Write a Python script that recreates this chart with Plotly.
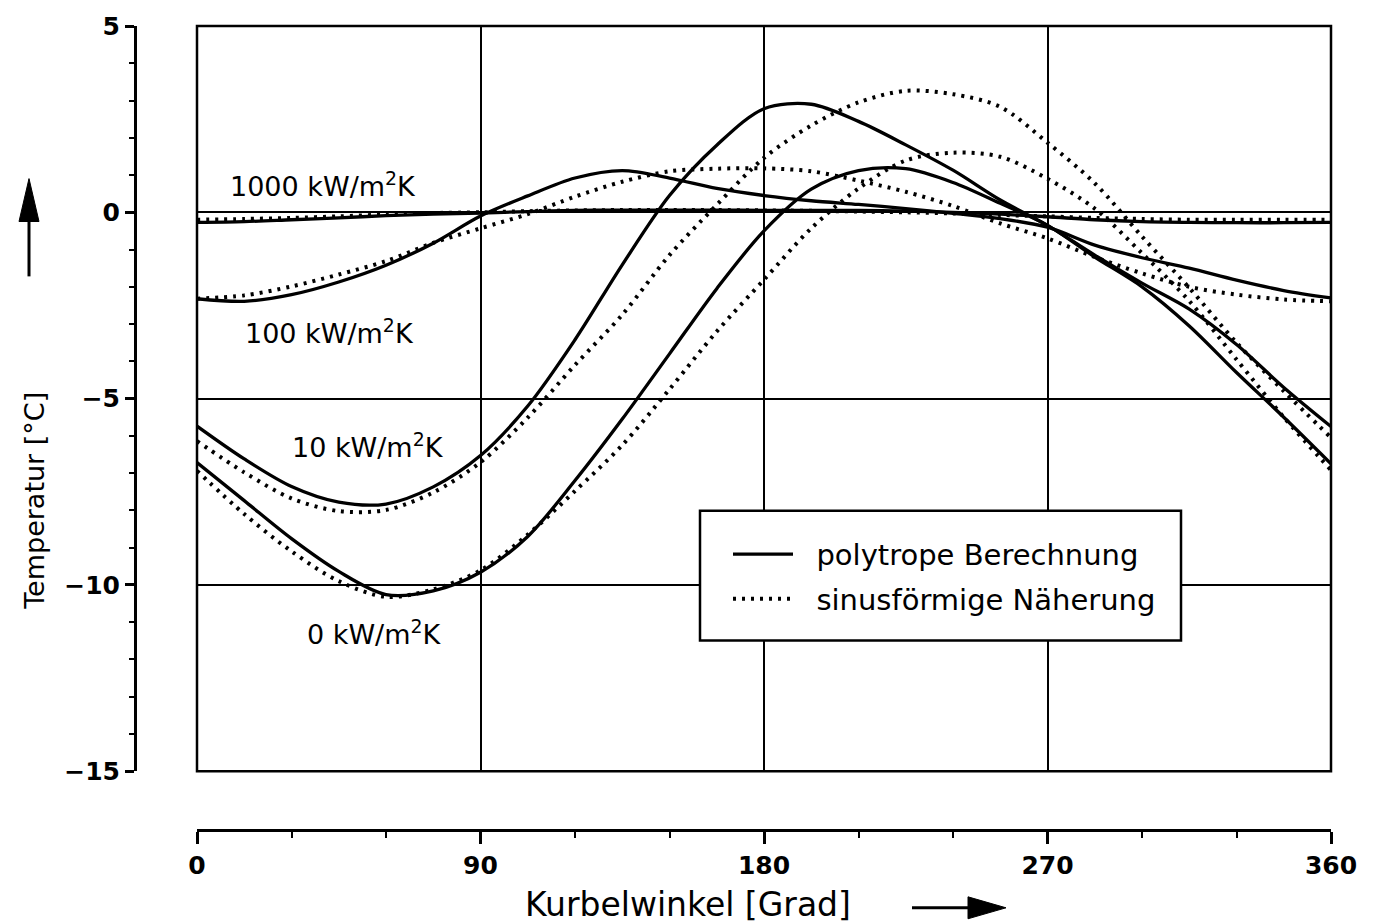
import plotly.graph_objects as go

# ---------------- data ----------------
angles = list(range(0, 361, 15))  # Kurbelwinkel [Grad]

# polytrope Berechnung (solid)
s1000 = [-0.27, -0.25, -0.20, -0.15, -0.09, -0.05, -0.02, 0.02, 0.05, 0.06, 0.06, 0.06, 0.05,
         0.05, 0.05, 0.03, 0.00, -0.05, -0.12, -0.20, -0.25, -0.27, -0.28, -0.28, -0.27]
s100 = [-2.32, -2.39, -2.21, -1.87, -1.42, -0.83, -0.10, 0.44, 0.92, 1.12, 0.92, 0.64, 0.45,
        0.31, 0.21, 0.10, -0.03, -0.17, -0.40, -0.88, -1.22, -1.50, -1.82, -2.10, -2.30]
s10 = [-5.74, -6.62, -7.36, -7.78, -7.83, -7.37, -6.53, -5.20, -3.42, -1.41, 0.45, 1.80, 2.78,
       2.90, 2.44, 1.81, 1.13, 0.33, -0.35, -1.15, -1.90, -2.60, -3.55, -4.70, -5.75]
s0 = [-6.72, -7.74, -8.76, -9.64, -10.26, -10.16, -9.66, -8.70, -7.20, -5.55, -3.80, -2.05, -0.50,
      0.62, 1.12, 1.17, 0.80, 0.24, -0.35, -1.20, -2.00, -3.05, -4.30, -5.50, -6.75]

# sinusfoermige Naeherung (dotted)
d1000 = [-0.20, -0.18, -0.15, -0.11, -0.06, -0.02, 0.00, 0.03, 0.05, 0.06, 0.06, 0.06, 0.05,
         0.04, 0.02, 0.00, -0.03, -0.07, -0.11, -0.15, -0.18, -0.20, -0.20, -0.20, -0.20]
d100 = [-2.32, -2.23, -1.99, -1.67, -1.31, -0.82, -0.43, -0.05, 0.42, 0.82, 1.10, 1.17, 1.18,
        1.10, 0.85, 0.55, 0.17, -0.30, -0.70, -1.20, -1.64, -2.00, -2.21, -2.34, -2.39]
d10 = [-6.14, -6.98, -7.68, -8.02, -7.99, -7.52, -6.71, -5.51, -4.10, -2.75, -1.15, 0.20, 1.46,
       2.33, 2.95, 3.26, 3.17, 2.83, 1.87, 0.78, -0.65, -2.03, -3.50, -4.80, -6.05]
d0 = [-6.94, -8.10, -9.10, -9.90, -10.32, -10.12, -9.61, -8.65, -7.48, -6.25, -4.75, -3.20, -1.81,
      -0.43, 0.64, 1.39, 1.60, 1.49, 0.90, 0.10, -1.10, -2.38, -3.95, -5.50, -6.92]

x_ticks = [0, 90, 180, 270, 360]
y_ticks = [5, 0, -5, -10, -15]
curve_labels = ["1000 kW/m<sup>2</sup>K", "100 kW/m<sup>2</sup>K",
                "10 kW/m<sup>2</sup>K", "0 kW/m<sup>2</sup>K"]
legend_names = ["polytrope Berechnung", "sinusförmige Näherung"]

# ---------------- layout geometry (pixels) ----------------
W, H = 1377, 923
PL, PR, PT, PB = 135, 1331, 24, 830      # paper area
DX0, DY1 = 197, 771                      # data area left / bottom
FONT = "DejaVu Sans"
NB = "\u00a0\u00a0"                       # gap between legend sample and text


def px(x):
    return (x - PL) / (PR - PL)


def py(y):
    return (PB - y) / (PB - PT)


fig = go.Figure()

solid = [s1000, s100, s10, s0]
dotted = [d1000, d100, d10, d0]
for i, ys in enumerate(solid):
    fig.add_trace(go.Scatter(
        x=angles, y=ys, mode="lines",
        line=dict(color="black", width=3.3, shape="spline", smoothing=0.9),
        name=NB + legend_names[0], legendgroup="a", showlegend=(i == 0)))
for i, ys in enumerate(dotted):
    fig.add_trace(go.Scatter(
        x=angles, y=ys, mode="lines",
        line=dict(color="black", width=4, shape="spline", smoothing=0.9, dash="3px,6px"),
        name=NB + legend_names[1], legendgroup="b", showlegend=(i == 0)))

# curve labels
lab_pos = [(9.8, 0.74), (14.6, -3.19), (29.5, -6.27), (34.3, -11.28)]
for t, (lx, ly) in zip(curve_labels, lab_pos):
    fig.add_annotation(x=lx, y=ly, xref="x", yref="y", text=t, showarrow=False,
                       xanchor="left", yanchor="middle",
                       font=dict(family=FONT, size=27, color="black"))

# axis titles
fig.add_annotation(x=px(688), y=py(905), xref="paper", yref="paper",
                   text="Kurbelwinkel [Grad]", showarrow=False,
                   xanchor="center", yanchor="middle",
                   font=dict(family=FONT, size=33, color="black"))
fig.add_annotation(x=px(35), y=py(500), xref="paper", yref="paper",
                   text="Temperatur [°C]", showarrow=False, textangle=-90,
                   xanchor="center", yanchor="middle",
                   font=dict(family=FONT, size=27, color="black"))

shapes = []
# frame of plot area
shapes.append(dict(type="rect", xref="x domain", yref="y domain", x0=0, x1=1, y0=0, y1=1,
                   line=dict(color="black", width=2.5)))
# y arrow
shapes.append(dict(type="line", xref="paper", yref="paper", x0=px(29), x1=px(29),
                   y0=py(275), y1=py(212), line=dict(color="black", width=3)))
shapes.append(dict(type="path", xref="paper", yref="paper",
                   path=f"M {px(29)} {py(177)} L {px(19)} {py(220)} L {px(39)} {py(220)} Z",
                   fillcolor="black", line=dict(color="black", width=1)))
# x arrow
shapes.append(dict(type="line", xref="paper", yref="paper", x0=px(912), x1=px(975),
                   y0=py(908), y1=py(908), line=dict(color="black", width=3)))
shapes.append(dict(type="path", xref="paper", yref="paper",
                   path=f"M {px(1006)} {py(908)} L {px(968)} {py(897)} L {px(968)} {py(919)} Z",
                   fillcolor="black", line=dict(color="black", width=1)))
# legend box
shapes.append(dict(type="rect", xref="paper", yref="paper", x0=px(700), x1=px(1181),
                   y0=py(640), y1=py(510), fillcolor="white",
                   line=dict(color="black", width=2.5), layer="above"))

fig.update_layout(
    width=W, height=H,
    margin=dict(l=PL, r=W - PR, t=PT, b=H - PB, pad=0),
    paper_bgcolor="white", plot_bgcolor="white",
    font=dict(family=FONT, color="black"),
    shapes=shapes,
    showlegend=True,
    legend=dict(x=px(728), y=py(528), xanchor="left", yanchor="top",
                bgcolor="rgba(0,0,0,0)", borderwidth=0,
                font=dict(family=FONT, size=29, color="black"),
                itemwidth=60, tracegroupgap=4, traceorder="grouped"),
    xaxis=dict(domain=[px(DX0), 1], range=[0, 360], anchor="free", position=0,
               tickvals=x_ticks, ticktext=[str(v) for v in x_ticks],
               ticks="outside", ticklen=12, tickwidth=2.5, tickcolor="black",
               showline=True, linecolor="black", linewidth=3,
               showgrid=True, gridcolor="black", gridwidth=2,
               zeroline=False,
               tickfont=dict(family=FONT, size=25, color="black", weight="bold"),
               minor=dict(dtick=30, tick0=0, ticks="outside", ticklen=6, tickwidth=2,
                          tickcolor="black", showgrid=False)),
    yaxis=dict(domain=[py(DY1), 1], range=[-15, 5], anchor="free", position=0,
               tickvals=y_ticks, ticktext=[str(v).replace("-", "−") for v in y_ticks],
               ticks="outside", ticklen=9, tickwidth=2.5, tickcolor="black",
               showline=True, linecolor="black", linewidth=3,
               showgrid=True, gridcolor="black", gridwidth=2,
               zeroline=False,
               tickfont=dict(family=FONT, size=25, color="black", weight="bold"),
               minor=dict(dtick=1, tick0=0, ticks="outside", ticklen=5, tickwidth=2,
                          tickcolor="black", showgrid=False)),
)

fig.write_html("out.html")
